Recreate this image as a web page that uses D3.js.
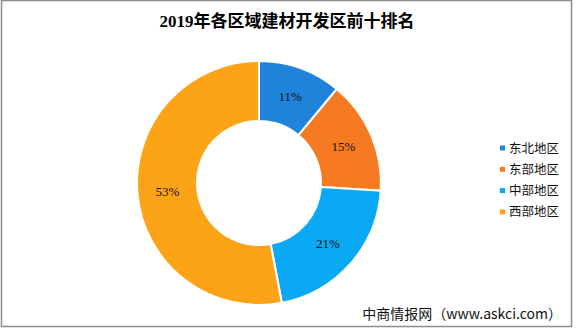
<!DOCTYPE html>
<html>
<head>
<meta charset="utf-8">
<script src="https://cdn.jsdelivr.net/npm/d3@7"></script>
<style>
  body { margin: 0; background: #fff; }
  svg { display: block; }
</style>
</head>
<body>
<svg id="chart"></svg>
<script>
const regions = ["东北地区", "东部地区", "中部地区", "西部地区"];
const shares = [11, 15, 21, 53];
const colors = ["#1f84d9", "#f57a22", "#0ba8f3", "#fda317"];
const titleText = "2019年各区域建材开发区前十排名";
const sourceText = "中商情报网（www.askci.com）";

const width = 576, height = 331;
const cx = 259, cy = 183, outerR = 122, innerR = 62;

const svg = d3.select("#chart")
    .attr("width", width)
    .attr("height", height);

// frame
svg.append("rect")
    .attr("x", 1.5).attr("y", 0.5)
    .attr("width", 570).attr("height", 326)
    .attr("fill", "none")
    .attr("stroke", "#8c8c8c")
    .attr("stroke-width", 1.5);

svg.append("text")
    .attr("x", 287).attr("y", 27)
    .attr("text-anchor", "middle")
    .style("font-family", "'Liberation Serif', 'Noto Sans CJK SC', serif")
    .style("font-weight", "bold")
    .style("font-size", "17px")
    .attr("fill", "#000")
    .text(titleText);

const data = regions.map((r, i) => ({ region: r, value: shares[i], color: colors[i] }));

const pie = d3.pie().sort(null).value(d => d.value);
const arc = d3.arc().innerRadius(innerR).outerRadius(outerR);

const g = svg.append("g").attr("transform", `translate(${cx},${cy})`);

g.selectAll("path")
    .data(pie(data))
    .join("path")
    .attr("d", arc)
    .attr("fill", d => d.data.color)
    .attr("stroke", "#fff")
    .attr("stroke-width", 2);

g.selectAll("text")
    .data(pie(data))
    .join("text")
    .attr("transform", d => `translate(${arc.centroid(d)})`)
    .attr("text-anchor", "middle")
    .attr("dy", "0.35em")
    .style("font-family", "'Liberation Serif', serif")
    .style("font-size", "13px")
    .attr("fill", "#111")
    .text(d => d.data.value + "%");

// legend
const legend = svg.append("g").attr("transform", "translate(500,148)");
const rows = legend.selectAll("g")
    .data(data)
    .join("g")
    .attr("transform", (d, i) => `translate(0,${i * 21.3})`);

rows.append("rect")
    .attr("x", 0).attr("y", -2.5)
    .attr("width", 5).attr("height", 5)
    .attr("fill", d => d.color);

rows.append("text")
    .attr("x", 9).attr("dy", "0.36em")
    .style("font-family", "'Noto Sans CJK SC', sans-serif")
    .style("font-size", "12.5px")
    .attr("fill", "#111")
    .text(d => d.region);

svg.append("text")
    .attr("x", 562).attr("y", 319)
    .attr("text-anchor", "end")
    .style("font-family", "'Noto Sans CJK SC', sans-serif")
    .style("font-size", "14px")
    .attr("fill", "#111")
    .text(sourceText);
</script>
</body>
</html>
